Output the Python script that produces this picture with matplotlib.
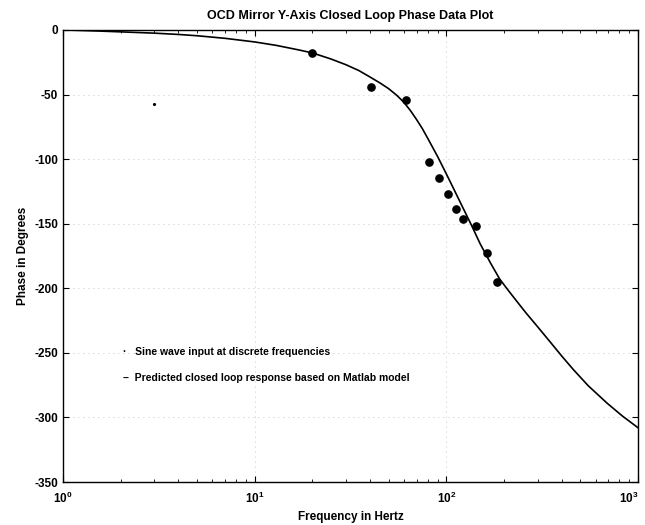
import matplotlib
matplotlib.use("Agg")
import matplotlib.pyplot as plt
import matplotlib.transforms as mtransforms
from matplotlib.ticker import LogLocator, NullFormatter

plt.rcParams["font.family"] = ["Liberation Sans", "DejaVu Sans"]
plt.rcParams["axes.unicode_minus"] = False

# measured points (sine wave input)
meas_freq = [20, 40.6, 61.4, 81.5, 91.8, 102, 112, 122, 143, 163, 183]
meas_phase = [-18, -44, -54, -102, -115, -127, -139, -146, -152, -173, -195]

# stray mark near the top left
stray_freq = [3.0]
stray_phase = [-57]

# predicted closed loop response (Matlab model)
model_freq = [1, 1.5, 2, 3, 4, 5, 7, 10, 13, 17, 20, 25, 30, 35, 40, 45, 50,
              55, 60, 65, 70, 75, 80, 90, 100, 110, 120, 135, 150, 170, 190,
              210, 230, 260, 300, 350, 400, 460, 550, 690, 830, 1000]
model_phase = [0, -0.8, -1.5, -2.5, -3.5, -4.5, -6.5, -9.3, -12, -15.5, -17.8,
               -22.5, -27, -31.5, -36.5, -41, -45.5, -50.5, -56, -62.5, -69.5,
               -76.5, -84, -98, -111.5, -124, -135.5, -151, -165.5, -180.5,
               -193, -201.5, -209, -219, -230, -242, -252.5, -263, -275.5,
               -289, -299, -308]

xticks = [1, 10, 100, 1000]
xticklabels = [r"$\mathdefault{10^{0}}$", r"$\mathdefault{10^{1}}$",
               r"$\mathdefault{10^{2}}$", r"$\mathdefault{10^{3}}$"]
yticks = [0, -50, -100, -150, -200, -250, -300, -350]

fig = plt.figure(figsize=(6.45, 5.25), dpi=100)
ax = fig.add_axes([0.0977, 0.0819, 0.8915, 0.8611])

ax.plot(model_freq, model_phase, color="black", linewidth=1.2)
ax.plot(meas_freq, meas_phase, "o", color="black", markersize=5.2)
ax.plot(stray_freq, stray_phase, ".", color="black", markersize=2.5)

ax.set_xscale("log")
ax.set_xlim(1, 1000)
ax.set_ylim(-350, 0)
ax.set_xticks(xticks)
ax.set_xticklabels(xticklabels, fontweight="bold")
ax.set_yticks(yticks)
ax.set_yticklabels([str(v) for v in yticks], fontweight="bold")
ax.xaxis.set_minor_locator(LogLocator(base=10, subs=range(2, 10)))
ax.xaxis.set_minor_formatter(NullFormatter())

ax.tick_params(which="both", direction="in", top=True, right=True, labelsize=8.5)
ax.tick_params(which="major", length=4)
ax.tick_params(axis="x", which="major", pad=6)
ax.tick_params(which="minor", length=2)
ax.grid(True, which="major", linestyle=(0, (1, 5)), linewidth=0.6, color="0.7")
for s in ax.spines.values():
    s.set_linewidth(1.0)

# pull the last x tick label in so it is not cut by the figure edge
last = ax.xaxis.get_major_ticks()[-1].label1
last.set_transform(last.get_transform() +
                   mtransforms.ScaledTranslation(-7 / 72, 0, fig.dpi_scale_trans))

ax.set_title("OCD Mirror Y-Axis Closed Loop Phase Data Plot", fontsize=9,
             fontweight="bold", pad=8)
ax.set_xlabel("Frequency in Hertz", fontsize=8.5, fontweight="bold")
ax.set_ylabel("Phase in Degrees", fontsize=8.5, fontweight="bold")

ax.text(0.104, 0.288, "·   Sine wave input at discrete frequencies",
        transform=ax.transAxes, fontsize=7.5, fontweight="bold", va="center")
ax.text(0.104, 0.230, "–  Predicted closed loop response based on Matlab model",
        transform=ax.transAxes, fontsize=7.5, fontweight="bold", va="center")

fig.savefig("out.png", dpi=100)
